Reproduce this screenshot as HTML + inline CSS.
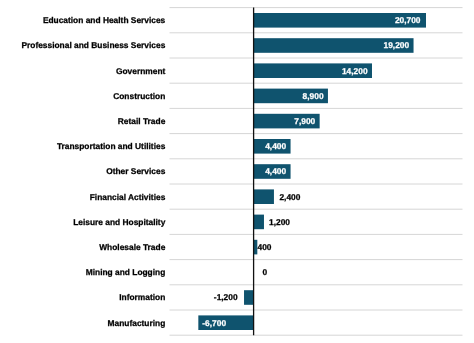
<!DOCTYPE html>
<html><head><meta charset="utf-8"><style>
html,body{margin:0;padding:0;background:#fff;}
svg{display:block;will-change:transform;}
#w{width:474px;height:343px;overflow:hidden;}
text{font-family:"Liberation Sans",sans-serif;font-weight:bold;font-size:8.4px;text-rendering:geometricPrecision;}
.l{fill:#000;stroke:#000;stroke-width:0.25px;}
.w{fill:#fff;stroke:#fff;stroke-width:0.25px;}
</style></head><body>
<div id="w"><svg width="474" height="343" viewBox="0 0 474 343">
<rect width="474" height="343" fill="#fff"/>
<line x1="169.5" x2="462.5" y1="7.60" y2="7.60" stroke="#d6d6d6" stroke-width="1"/>
<line x1="169.5" x2="462.5" y1="32.80" y2="32.80" stroke="#d6d6d6" stroke-width="1"/>
<line x1="169.5" x2="462.5" y1="58.00" y2="58.00" stroke="#d6d6d6" stroke-width="1"/>
<line x1="169.5" x2="462.5" y1="83.20" y2="83.20" stroke="#d6d6d6" stroke-width="1"/>
<line x1="169.5" x2="462.5" y1="108.40" y2="108.40" stroke="#d6d6d6" stroke-width="1"/>
<line x1="169.5" x2="462.5" y1="133.60" y2="133.60" stroke="#d6d6d6" stroke-width="1"/>
<line x1="169.5" x2="462.5" y1="158.80" y2="158.80" stroke="#d6d6d6" stroke-width="1"/>
<line x1="169.5" x2="462.5" y1="184.00" y2="184.00" stroke="#d6d6d6" stroke-width="1"/>
<line x1="169.5" x2="462.5" y1="209.20" y2="209.20" stroke="#d6d6d6" stroke-width="1"/>
<line x1="169.5" x2="462.5" y1="234.40" y2="234.40" stroke="#d6d6d6" stroke-width="1"/>
<line x1="169.5" x2="462.5" y1="259.60" y2="259.60" stroke="#d6d6d6" stroke-width="1"/>
<line x1="169.5" x2="462.5" y1="284.80" y2="284.80" stroke="#d6d6d6" stroke-width="1"/>
<line x1="169.5" x2="462.5" y1="310.00" y2="310.00" stroke="#d6d6d6" stroke-width="1"/>
<line x1="169.5" x2="462.5" y1="335.20" y2="335.20" stroke="#d6d6d6" stroke-width="1"/>
<rect x="254.00" y="13.00" width="172.00" height="14.6" fill="#0f536e"/>
<text x="165.3" y="23.20" text-anchor="end" class="l">Education and Health Services</text>
<text x="420.50" y="23.20" text-anchor="end" class="w">20,700</text>
<rect x="254.00" y="38.20" width="159.54" height="14.6" fill="#0f536e"/>
<text x="165.3" y="48.40" text-anchor="end" class="l">Professional and Business Services</text>
<text x="409.14" y="48.40" text-anchor="end" class="w">19,200</text>
<rect x="254.00" y="63.40" width="117.99" height="14.6" fill="#0f536e"/>
<text x="165.3" y="73.60" text-anchor="end" class="l">Government</text>
<text x="367.59" y="73.60" text-anchor="end" class="w">14,200</text>
<rect x="254.00" y="88.60" width="73.95" height="14.6" fill="#0f536e"/>
<text x="165.3" y="98.80" text-anchor="end" class="l">Construction</text>
<text x="323.55" y="98.80" text-anchor="end" class="w">8,900</text>
<rect x="254.00" y="113.80" width="65.64" height="14.6" fill="#0f536e"/>
<text x="165.3" y="124.00" text-anchor="end" class="l">Retail Trade</text>
<text x="315.24" y="124.00" text-anchor="end" class="w">7,900</text>
<rect x="254.00" y="139.00" width="36.56" height="14.6" fill="#0f536e"/>
<text x="165.3" y="149.20" text-anchor="end" class="l">Transportation and Utilities</text>
<text x="286.16" y="149.20" text-anchor="end" class="w">4,400</text>
<rect x="254.00" y="164.20" width="36.56" height="14.6" fill="#0f536e"/>
<text x="165.3" y="174.40" text-anchor="end" class="l">Other Services</text>
<text x="286.16" y="174.40" text-anchor="end" class="w">4,400</text>
<rect x="254.00" y="189.40" width="19.94" height="14.6" fill="#0f536e"/>
<text x="165.3" y="199.60" text-anchor="end" class="l">Financial Activities</text>
<text x="279.4" y="199.60" text-anchor="start" class="l">2,400</text>
<rect x="254.00" y="214.60" width="9.97" height="14.6" fill="#0f536e"/>
<text x="165.3" y="224.80" text-anchor="end" class="l">Leisure and Hospitality</text>
<text x="269.0" y="224.80" text-anchor="start" class="l">1,200</text>
<rect x="254.00" y="239.80" width="3.32" height="14.6" fill="#0f536e"/>
<text x="165.3" y="250.00" text-anchor="end" class="l">Wholesale Trade</text>
<text x="257.5" y="250.00" text-anchor="start" class="l">400</text>
<text x="165.3" y="275.20" text-anchor="end" class="l">Mining and Logging</text>
<text x="262.4" y="275.20" text-anchor="start" class="l">0</text>
<rect x="244.03" y="290.20" width="9.97" height="14.6" fill="#0f536e"/>
<text x="165.3" y="300.40" text-anchor="end" class="l">Information</text>
<text x="237.6" y="300.40" text-anchor="end" class="l">-1,200</text>
<rect x="198.33" y="315.40" width="55.67" height="14.6" fill="#0f536e"/>
<text x="165.3" y="325.60" text-anchor="end" class="l">Manufacturing</text>
<text x="202.33" y="325.60" text-anchor="start" class="w">-6,700</text>
<line x1="253.6" x2="253.6" y1="7.6" y2="335.20" stroke="#111" stroke-width="1.3"/>
</svg></div>
</body></html>
